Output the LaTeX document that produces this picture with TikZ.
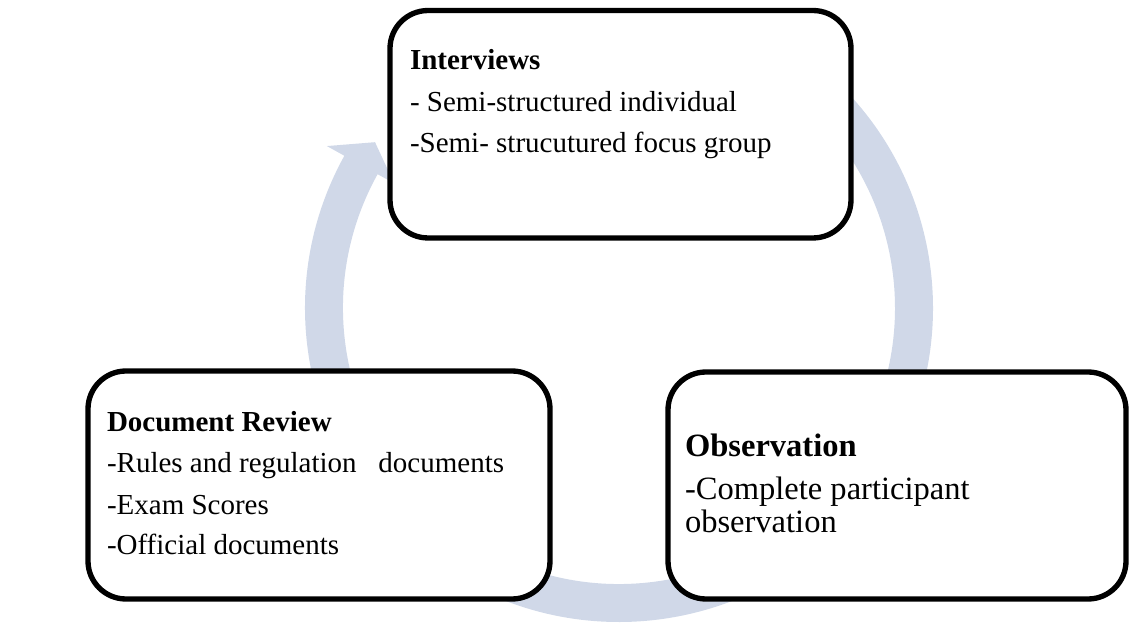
\documentclass[tikz,border=0pt]{standalone}
\usepackage{fontspec}
\setmainfont{Liberation Serif}
\usetikzlibrary{calc}
\definecolor{ringc}{RGB}{208,216,232}
\tikzset{
  box/.style={draw=black, line width=4pt, rounded corners=28.5pt, fill=white, inner sep=0pt, outer sep=0pt},
  txt/.style={anchor=base west, inner sep=0pt, outer sep=0pt, font=\fontsize{21.75}{26}\selectfont},
  head/.style={anchor=base west, inner sep=0pt, outer sep=0pt, font=\fontsize{21.75}{26}\selectfont\bfseries},
  otxt/.style={anchor=base west, inner sep=0pt, outer sep=0pt, font=\fontsize{24.4}{29}\selectfont},
  ohead/.style={anchor=base west, inner sep=0pt, outer sep=0pt, font=\fontsize{24.4}{29}\selectfont\bfseries},
}
\begin{document}
\begin{tikzpicture}[x=0.75pt,y=-0.75pt]
\useasboundingbox (0,0) rectangle (1129,623);
\coordinate (C) at (619,308);
% circular arrow
\fill[ringc] ($(C)+(-50:314)$) arc[start angle=-50, end angle=209, radius=314]
  -- ($(C)+(209:334)$) -- ($(C)+(214.2:295)$) -- ($(C)+(209:257)$)
  -- ($(C)+(209:276)$) arc[start angle=209, end angle=-50, radius=276] -- cycle;
% boxes
\node[box, minimum width=345.75pt, minimum height=170.6pt] (intv) at (620.5,124.25) {};
\node[box, minimum width=346.5pt, minimum height=171pt] (docr) at (319,485) {};
\node[box, minimum width=343.5pt, minimum height=170.25pt] (obsv) at (897,485.5) {};
% Interviews text
\node[head] (i1) at (410,70) {Interviews};
\node[txt] (i2) at (410,111.5) {- Semi-structured individual};
\node[txt] (i3) at (410,153) {-Semi- strucutured focus group};
% Document Review text
\node[head] (d1) at (107,431.7) {Document Review};
\node[txt] (d2) at (107,473) {-Rules and regulation\ \ \ documents};
\node[txt] (d3) at (107,515) {-Exam Scores};
\node[txt] (d4) at (107,555) {-Official documents};
% Observation text
\node[ohead] (o1) at (685,456.7) {Observation};
\node[otxt] (o2) at (685,500) {-Complete participant};
\node[otxt] (o3) at (685,533) {observation};
\end{tikzpicture}
\end{document}
